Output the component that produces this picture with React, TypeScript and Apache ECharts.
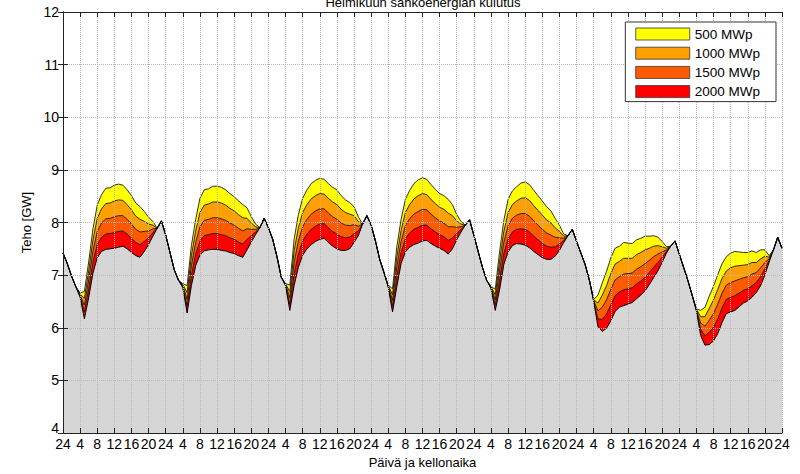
import React, { useEffect, useRef } from "react";
import * as echarts from "echarts";

const TITLE = "Helmikuun sähköenergian kulutus";
const X_NAME = "Päivä ja kellonaika";
const Y_NAME = "Teho [GW]";
const capacityLabels = ["500 MWp", "1000 MWp", "1500 MWp", "2000 MWp"];

// Net consumption (GW) with 2000 MWp of PV (top of the grey area), hourly per day
const loadDay1 = [7.42, 7.22, 6.98, 6.78, 6.58, 6.17, 6.57, 7.04, 7.33, 7.45, 7.49, 7.5, 7.51, 7.53, 7.55, 7.5, 7.43, 7.37, 7.34, 7.45, 7.58, 7.74, 7.89, 8.03];
const loadDay2 = [7.76, 7.43, 7.1, 6.9, 6.76, 6.28, 6.8, 7.18, 7.38, 7.46, 7.48, 7.49, 7.49, 7.47, 7.46, 7.43, 7.41, 7.37, 7.34, 7.48, 7.63, 7.77, 7.9, 8.08];
const loadDay3 = [7.9, 7.68, 7.35, 6.96, 6.8, 6.33, 6.8, 7.15, 7.38, 7.5, 7.58, 7.64, 7.68, 7.7, 7.62, 7.55, 7.5, 7.47, 7.47, 7.5, 7.62, 7.75, 7.97, 8.13];
const loadDay4 = [7.95, 7.65, 7.3, 7.05, 6.77, 6.3, 6.78, 7.22, 7.44, 7.53, 7.58, 7.61, 7.65, 7.66, 7.6, 7.55, 7.51, 7.47, 7.4, 7.5, 7.67, 7.82, 7.95, 8.05];
const loadDay5 = [7.76, 7.45, 7.15, 6.9, 6.75, 6.33, 6.72, 7.2, 7.44, 7.56, 7.6, 7.59, 7.57, 7.52, 7.45, 7.39, 7.33, 7.3, 7.3, 7.36, 7.47, 7.62, 7.75, 7.87];
const loadDay6 = [7.64, 7.42, 7.2, 6.9, 6.5, 6.02, 5.93, 5.99, 6.13, 6.31, 6.39, 6.42, 6.45, 6.48, 6.55, 6.62, 6.7, 6.82, 6.95, 7.08, 7.24, 7.42, 7.55, 7.65];
const loadDay7 = [7.4, 7.15, 6.9, 6.62, 6.32, 5.85, 5.67, 5.68, 5.75, 5.89, 6.1, 6.27, 6.3, 6.33, 6.4, 6.47, 6.51, 6.58, 6.67, 6.8, 7.0, 7.25, 7.48, 7.72];
const loadEnd = [7.51];

// PV output (GW) of one 500 MWp step, hourly per day
const pvDay1 = [0, 0, 0, 0, 0.02, 0.13, 0.17, 0.21, 0.25, 0.27, 0.29, 0.29, 0.3, 0.3, 0.29, 0.28, 0.27, 0.25, 0.24, 0.19, 0.13, 0.07, 0, 0];
const pvDay2 = [0, 0, 0, 0, 0.02, 0.13, 0.19, 0.22, 0.27, 0.29, 0.29, 0.3, 0.3, 0.3, 0.29, 0.28, 0.27, 0.26, 0.25, 0.2, 0.12, 0.05, 0, 0];
const pvDay3 = [0, 0, 0, 0, 0.01, 0.12, 0.22, 0.25, 0.27, 0.28, 0.29, 0.29, 0.29, 0.28, 0.28, 0.28, 0.28, 0.26, 0.24, 0.22, 0.17, 0.09, 0, 0];
const pvDay4 = [0, 0, 0, 0, 0.01, 0.11, 0.19, 0.21, 0.25, 0.27, 0.29, 0.3, 0.3, 0.29, 0.28, 0.27, 0.26, 0.26, 0.26, 0.21, 0.12, 0.05, 0, 0];
const pvDay5 = [0, 0, 0, 0, 0.01, 0.1, 0.18, 0.21, 0.25, 0.26, 0.27, 0.29, 0.3, 0.3, 0.29, 0.28, 0.27, 0.25, 0.23, 0.18, 0.12, 0.04, 0, 0];
const pvDay6 = [0, 0, 0, 0, 0.01, 0.15, 0.23, 0.27, 0.3, 0.3, 0.29, 0.3, 0.29, 0.28, 0.28, 0.27, 0.26, 0.23, 0.2, 0.16, 0.1, 0.03, 0, 0];
const pvDay7 = [0, 0, 0, 0, 0.01, 0.12, 0.18, 0.23, 0.26, 0.28, 0.28, 0.27, 0.28, 0.28, 0.26, 0.24, 0.23, 0.22, 0.19, 0.17, 0.12, 0.03, 0, 0];
const pvEnd = [0];

const netLoad = [...loadDay1, ...loadDay2, ...loadDay3, ...loadDay4, ...loadDay5, ...loadDay6, ...loadDay7, ...loadEnd];
const pvStep = [...pvDay1, ...pvDay2, ...pvDay3, ...pvDay4, ...pvDay5, ...pvDay6, ...pvDay7, ...pvEnd];
const hours = netLoad.map((_, i) => i);

const FONT = "'Liberation Sans', Arial, Helvetica, sans-serif";

export default function App() {
  const ref = useRef<HTMLDivElement>(null);

  useEffect(() => {
    if (!ref.current) return;
    const chart = echarts.init(ref.current, undefined, { renderer: "svg" });

    const colors: Record<string, string> = {
      "500 MWp": "#ffff00",
      "1000 MWp": "#ffa000",
      "1500 MWp": "#ff5a00",
      "2000 MWp": "#ff0000",
    };

    // Painter's order: highest curve first, grey base last.
    const layered = [
      { name: "500 MWp", steps: 4 },
      { name: "1000 MWp", steps: 3 },
      { name: "1500 MWp", steps: 2 },
      { name: "2000 MWp", steps: 1 },
    ];

    const series: any[] = [
      ...layered.map((l) => ({
        name: l.name,
        type: "line",
        symbol: "none",
        data: hours.map((h) => [h, +(netLoad[h] + l.steps * pvStep[h]).toFixed(3)]),
        lineStyle: { color: "#1a1a1a", width: 0.9 },
        areaStyle: { color: colors[l.name], opacity: 1, origin: "start" },
        itemStyle: { color: colors[l.name] },
      })),
      {
        name: "base",
        type: "line",
        symbol: "none",
        data: hours.map((h) => [h, netLoad[h]]),
        lineStyle: { color: "#000", width: 1 },
        areaStyle: { color: "#d6d6d6", opacity: 1, origin: "start" },
        itemStyle: { color: "#d6d6d6" },
      },
    ];

    const axisLine = { show: true, lineStyle: { color: "#222", width: 1 } };
    const tick = { show: true, inside: true, length: 5, lineStyle: { color: "#222", width: 1 } };

    chart.setOption({
      animation: false,
      backgroundColor: "#ffffff",
      textStyle: { fontFamily: FONT },
      grid: { left: 63, right: 18, top: 12, bottom: 41, containLabel: false, outerBoundsMode: "none" },
      legend: {
        z: 20,
        data: capacityLabels.map((n) => ({
          name: n,
          icon: "rect",
          itemStyle: { color: colors[n], borderColor: "#333", borderWidth: 0.8 },
        })),
        orient: "vertical",
        right: 24,
        top: 22,
        itemWidth: 54,
        itemHeight: 12,
        itemGap: 5.2,
        padding: [5, 16, 3, 10],
        backgroundColor: "#fff",
        borderColor: "#333",
        borderWidth: 1,
        selectedMode: false,
        textStyle: { fontSize: 13.5, color: "#000", fontFamily: FONT },
      },
      xAxis: [
        {
          type: "value",
          min: 0,
          max: 168,
          interval: 4,
          position: "bottom",
          axisLine,
          axisTick: tick,
          axisLabel: {
            color: "#000",
            fontSize: 14,
            margin: 4,
            fontFamily: FONT,
            formatter: (v: number) => String(v % 24 === 0 ? 24 : v % 24),
          },
          splitLine: { show: true, lineStyle: { color: "#b8b8b8", type: "dotted", width: 1 } },
          name: X_NAME,
          nameLocation: "middle",
          nameGap: 22,
          nameTextStyle: { color: "#000", fontSize: 13, fontFamily: FONT },
          z: 10,
        },
        {
          type: "value",
          min: 0,
          max: 168,
          interval: 4,
          position: "top",
          axisLine,
          axisTick: tick,
          axisLabel: { show: false },
          splitLine: { show: false },
          z: 10,
        },
      ],
      yAxis: [
        {
          type: "value",
          min: 4,
          max: 12,
          interval: 1,
          position: "left",
          axisLine,
          axisTick: tick,
          axisLabel: {
            color: "#000",
            fontSize: 14,
            margin: 4,
            fontFamily: FONT,
            formatter: (v: number) => (v === 4 ? "{low|4}" : String(v)),
            rich: {
              low: { fontSize: 14, color: "#000", fontFamily: FONT, padding: [0, 0, 10, 0] },
            },
          },
          splitLine: { show: true, lineStyle: { color: "#b8b8b8", type: "dotted", width: 1 } },
          name: Y_NAME,
          nameLocation: "middle",
          nameGap: 27,
          nameTextStyle: { color: "#000", fontSize: 13, fontFamily: FONT },
          z: 10,
        },
        {
          type: "value",
          min: 4,
          max: 12,
          interval: 1,
          position: "right",
          axisLine,
          axisTick: tick,
          axisLabel: { show: false },
          splitLine: { show: false },
          z: 10,
        },
      ],
      graphic: [
        {
          type: "text",
          x: 423,
          y: 2,
          silent: true,
          style: {
            text: TITLE,
            align: "center",
            verticalAlign: "middle",
            fontSize: 13,
            fontFamily: FONT,
            fill: "#000",
          },
        },
      ],
      series,
    });

    return () => chart.dispose();
  }, []);

  return (
    <div
      ref={ref}
      style={{ position: "fixed", left: 0, top: 0, width: 800, height: 474, background: "#fff" }}
    />
  );
}
